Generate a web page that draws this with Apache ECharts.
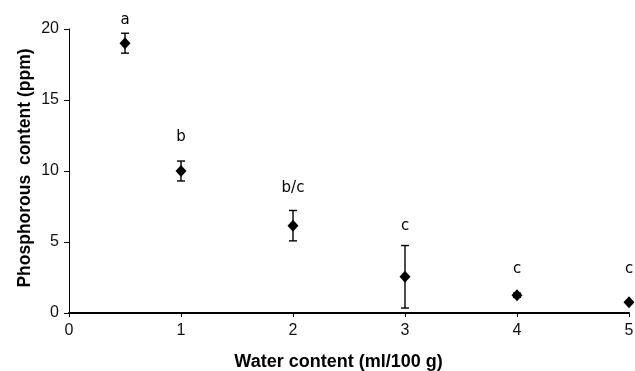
<!DOCTYPE html>
<html><head><meta charset="utf-8">
<script src="https://cdn.jsdelivr.net/npm/echarts@6/dist/echarts.min.js"></script>
<style>html,body{margin:0;padding:0;background:#fff}#c{width:635px;height:371px}</style>
</head><body><div id="c"></div>
<script>
var water = [0.5, 1, 2, 3, 4, 5];
var phosphorus = [19.0, 10.0, 6.15, 2.55, 1.25, 0.75];
var errors = [0.7, 0.7, 1.07, 2.2, 0.15, 0];
var letters = ['a', 'b', 'b/c', 'c', 'c', 'c'];
var letterHeights = [20.6, 12.4, 8.8, 6.1, 3.1, 3.1];
var xTicks = [0, 1, 2, 3, 4, 5];
var yTicks = [0, 5, 10, 15, 20];

var chart = echarts.init(document.getElementById('c'), null, {renderer: 'canvas'});
var font = 'Liberation Sans, Arial, sans-serif';
chart.setOption({
  animation: false,
  grid: {left: 69, right: 6, top: 29, bottom: 58, containLabel: false, outerBoundsMode: 'none'},
  xAxis: {
    type: 'value', min: xTicks[0], max: xTicks[xTicks.length - 1], interval: 1,
    name: 'Water content (ml/100 g)', nameLocation: 'middle', nameGap: 40,
    nameMoveOverlap: false,
    nameTextStyle: {fontFamily: font, fontSize: 18, fontWeight: 'bold', color: '#000', padding: [0, 21, 0, 0]},
    axisLine: {show: true, onZero: false, lineStyle: {color: '#000', width: 2}},
    axisTick: {show: true, length: 4, lineStyle: {color: '#000', width: 1}},
    axisLabel: {fontFamily: font, fontSize: 16, color: '#111', margin: 10},
    splitLine: {show: false}
  },
  yAxis: {
    type: 'value', min: yTicks[0], max: yTicks[yTicks.length - 1], interval: 5,
    name: 'Phosphorous  content (ppm)', nameLocation: 'middle', nameGap: 35,
    nameMoveOverlap: false,
    nameTextStyle: {fontFamily: font, fontSize: 17.5, fontWeight: 'bold', color: '#000', padding: [0, 0, 0, 6]},
    axisLine: {show: true, lineStyle: {color: '#000', width: 1}},
    axisTick: {show: true, length: 5, lineStyle: {color: '#000', width: 1}},
    axisLabel: {fontFamily: font, fontSize: 16, color: '#111', margin: 10},
    splitLine: {show: false}
  },
  series: [
    {
      type: 'custom',
      data: water.map(function (x, i) { return [x, phosphorus[i] - errors[i], phosphorus[i] + errors[i]]; }),
      renderItem: function (params, api) {
        var lo = api.coord([api.value(0), api.value(1)]);
        var hi = api.coord([api.value(0), api.value(2)]);
        if (Math.abs(hi[1] - lo[1]) < 0.5) return null;
        var w = 4;
        var st = {stroke: '#000', lineWidth: 1.4};
        return {type: 'group', children: [
          {type: 'line', shape: {x1: lo[0], y1: lo[1], x2: hi[0], y2: hi[1]}, style: st},
          {type: 'line', shape: {x1: lo[0] - w, y1: lo[1], x2: lo[0] + w, y2: lo[1]}, style: st},
          {type: 'line', shape: {x1: hi[0] - w, y1: hi[1], x2: hi[0] + w, y2: hi[1]}, style: st}
        ]};
      },
      z: 2
    },
    {
      type: 'scatter',
      symbol: 'diamond', symbolSize: [11, 12],
      itemStyle: {color: '#000', opacity: 1},
      data: water.map(function (x, i) { return [x, phosphorus[i]]; }),
      z: 3
    },
    {
      type: 'scatter',
      symbolSize: 0, clip: false,
      itemStyle: {opacity: 1},
      data: water.map(function (x, i) { return [x, letterHeights[i]]; }),
      label: {
        show: true, position: 'inside',
        formatter: function (p) { return letters[p.dataIndex]; },
        fontFamily: 'DejaVu Sans, sans-serif', fontSize: 15, color: '#000'
      },
      z: 4
    }
  ]
});
</script></body></html>
